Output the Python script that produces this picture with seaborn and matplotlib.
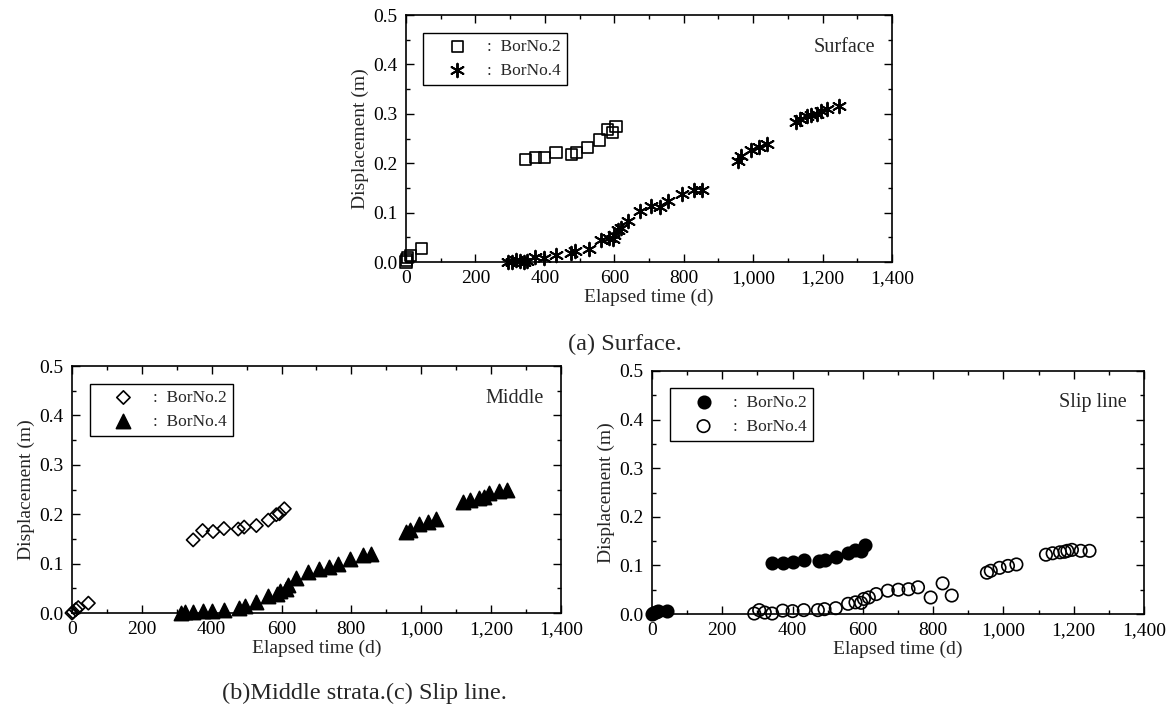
import matplotlib
matplotlib.use('Agg')
import matplotlib.pyplot as plt
from matplotlib.ticker import MultipleLocator, FuncFormatter
import seaborn as sns

# (a) surface - elapsed days / displacement (m)
surf_b2_t = [0, 2, 5, 13, 44, 343, 372, 399, 432, 476, 490, 523, 558, 581, 596, 605]
surf_b2_d = [0.0, 0.004, 0.009, 0.014, 0.028, 0.208, 0.212, 0.212, 0.221, 0.218, 0.222,
             0.232, 0.247, 0.268, 0.263, 0.275]
surf_b4_t = [295, 306, 316, 327, 339, 348, 372, 399, 433, 476, 488, 526, 562, 585, 595, 600,
             611, 619, 639, 674, 705, 733, 754, 794, 830, 854, 957, 966, 994, 1017, 1040,
             1124, 1136, 1154, 1168, 1184, 1195, 1214, 1246]
surf_b4_d = [0.0, 0.001, 0.004, 0.003, 0.0, 0.003, 0.011, 0.009, 0.015, 0.018, 0.023, 0.026,
             0.045, 0.049, 0.047, 0.055, 0.065, 0.068, 0.084, 0.103, 0.113, 0.112, 0.124,
             0.138, 0.145, 0.145, 0.205, 0.214, 0.227, 0.232, 0.239, 0.283, 0.29, 0.295,
             0.298, 0.3, 0.305, 0.31, 0.315]

# (b) middle strata
mid_b2_t = [0, 3, 11, 18, 47, 347, 374, 404, 435, 476, 493, 528, 562, 585, 594, 608]
mid_b2_d = [0.0, 0.002, 0.007, 0.011, 0.02, 0.148, 0.167, 0.165, 0.171, 0.17, 0.174, 0.177,
            0.188, 0.199, 0.201, 0.211]
mid_b4_t = [312, 323, 347, 375, 402, 435, 477, 495, 528, 562, 587, 597, 612, 620, 642, 676,
            707, 737, 762, 797, 832, 856, 956, 969, 995, 1018, 1041, 1119, 1140, 1165, 1179,
            1195, 1222, 1246]
mid_b4_d = [0.0, 0.002, 0.003, 0.005, 0.005, 0.006, 0.011, 0.014, 0.022, 0.034, 0.039, 0.045,
            0.049, 0.056, 0.07, 0.083, 0.09, 0.093, 0.1, 0.11, 0.117, 0.119, 0.164, 0.169,
            0.181, 0.185, 0.191, 0.225, 0.228, 0.233, 0.235, 0.243, 0.247, 0.25]

# (c) slip line
slip_b2_t = [0, 3, 11, 17, 44, 342, 372, 400, 432, 474, 491, 523, 558, 579, 595, 607]
slip_b2_d = [0.001, 0.003, 0.005, 0.007, 0.007, 0.104, 0.104, 0.107, 0.111, 0.11, 0.111,
             0.118, 0.125, 0.132, 0.13, 0.141]
slip_b4_t = [291, 305, 321, 342, 372, 400, 432, 472, 491, 523, 558, 579, 595, 603, 617, 638,
             671, 701, 730, 757, 793, 827, 853, 953, 964, 989, 1013, 1037, 1121, 1140, 1161,
             1174, 1182, 1195, 1220, 1245]
slip_b4_d = [0.001, 0.008, 0.003, 0.001, 0.007, 0.006, 0.008, 0.008, 0.01, 0.012, 0.021,
             0.024, 0.023, 0.031, 0.034, 0.041, 0.048, 0.05, 0.051, 0.055, 0.034, 0.063,
             0.038, 0.085, 0.089, 0.095, 0.099, 0.102, 0.122, 0.125, 0.127, 0.128, 0.13,
             0.132, 0.13, 0.13]

sns.set_theme(style='ticks')
plt.rcParams['font.family'] = ['Liberation Serif', 'DejaVu Serif']

fig = plt.figure(figsize=(11.72, 7.11), dpi=100)
ax_a = fig.add_axes([0.3464, 0.6315, 0.4147, 0.3474])
ax_b = fig.add_axes([0.0614, 0.1378, 0.4172, 0.3474])
ax_c = fig.add_axes([0.5563, 0.1364, 0.4198, 0.3418])

asterisk = (6, 2, 0)


def draw(ax, t, d, marker, filled, size, label, lw=1.2):
    if filled:
        sns.scatterplot(x=t, y=d, ax=ax, marker=marker, s=size, color='black',
                        edgecolor='black', linewidth=lw, label=label, clip_on=False, zorder=3)
    else:
        sns.scatterplot(x=t, y=d, ax=ax, marker=marker, s=size, color='black',
                        facecolor='none', edgecolor='black', linewidth=lw, label=label,
                        clip_on=False, zorder=3)


def style(ax, tag):
    ax.set_xlim(0, 1400)
    ax.set_ylim(0, 0.5)
    ax.xaxis.set_major_locator(MultipleLocator(200))
    ax.xaxis.set_minor_locator(MultipleLocator(100))
    ax.yaxis.set_major_locator(MultipleLocator(0.1))
    ax.yaxis.set_minor_locator(MultipleLocator(0.05))
    ax.xaxis.set_major_formatter(FuncFormatter(lambda v, p: f'{int(round(v)):,}'))
    ax.yaxis.set_major_formatter(FuncFormatter(lambda v, p: f'{v:.1f}'))
    ax.tick_params(which='both', direction='in', top=True, right=True, colors='black',
                   labelsize=14, pad=6)
    ax.tick_params(which='major', length=5.5, width=1.0)
    ax.tick_params(which='minor', length=3, width=1.0)
    for sp in ax.spines.values():
        sp.set_visible(True)
        sp.set_color('black')
        sp.set_linewidth(1.2)
    ax.set_xlabel('Elapsed time (d)', fontsize=14, labelpad=1)
    ax.set_ylabel('Displacement (m)', fontsize=14, labelpad=3)
    ax.text(0.965, 0.87, tag, transform=ax.transAxes, ha='right', va='center', fontsize=14.5)
    leg = ax.legend(loc='upper left', bbox_to_anchor=(0.036, 0.928), borderaxespad=0,
                    fontsize=12.5, frameon=True, fancybox=False, edgecolor='black',
                    framealpha=1, borderpad=0.35, handlelength=3.2, handletextpad=0.1,
                    labelspacing=0.45, scatterpoints=1)
    leg.get_frame().set_linewidth(1.0)


draw(ax_a, surf_b2_t, surf_b2_d, 's', False, 64, ':  BorNo.2')
draw(ax_a, surf_b4_t, surf_b4_d, asterisk, True, 95, ':  BorNo.4', lw=1.4)
style(ax_a, 'Surface')

draw(ax_b, mid_b2_t, mid_b2_d, 'D', False, 46, ':  BorNo.2')
draw(ax_b, mid_b4_t, mid_b4_d, '^', True, 105, ':  BorNo.4')
style(ax_b, 'Middle')

draw(ax_c, slip_b2_t, slip_b2_d, 'o', True, 80, ':  BorNo.2')
draw(ax_c, slip_b4_t, slip_b4_d, 'o', False, 80, ':  BorNo.4')
style(ax_c, 'Slip line')

fig.text(0.533, 0.515, '(a) Surface.', ha='center', va='center', fontsize=17.5)
fig.text(0.311, 0.025, '(b)Middle strata.(c) Slip line.', ha='center', va='center',
         fontsize=17.5)

fig.savefig('out.png', dpi=100, facecolor='white')
